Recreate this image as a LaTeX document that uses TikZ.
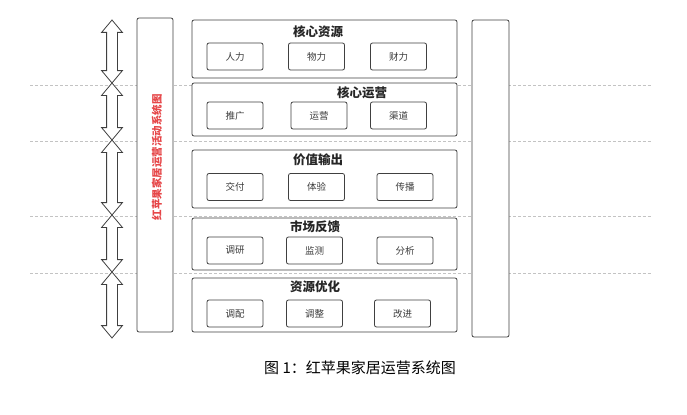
\documentclass[tikz,border=0pt]{standalone}
\usepackage{fontspec}
\setmainfont{Noto Sans CJK SC}
\usepackage{tikz}
\usetikzlibrary{shapes.arrows, positioning}
\definecolor{mydark}{RGB}{64,64,64}
\definecolor{mytext}{RGB}{60,60,60}
\definecolor{myred}{RGB}{230,70,72}
\definecolor{mydash}{RGB}{195,195,195}
\tikzset{
  layer/.style={rectangle, draw=mydark, fill=white, minimum width=265bp,
    rounded corners=2pt, line width=0.8pt},
  itembox/.style={rectangle, draw=mydark, fill=white, minimum width=56bp,
    minimum height=27bp, inner sep=0pt, text=mytext,
    font=\fontsize{9.5bp}{11bp}\selectfont, rounded corners=2pt, line width=0.8pt},
  layertitle/.style={inner sep=0pt, text=black!85,
    font=\fontsize{12.5bp}{15bp}\selectfont\bfseries},
  sidebox/.style={rectangle, draw=mydark, fill=white,
    rounded corners=2pt, line width=0.8pt},
  dblarrow/.style={double arrow, draw=mydark, fill=white, rotate=90,
    inner sep=5bp, double arrow head extend=5bp, double arrow tip angle=80,
    line width=0.8pt},
  guide/.style={color=mydash, line width=0.6pt, dash pattern=on 3pt off 2pt}
}

\begin{document}
\begin{tikzpicture}[x=1bp, y=-1bp]
  \useasboundingbox (0,0) rectangle (687,414);
  \foreach \y in {85,141,216,273}
    \draw[guide] (30,\y) -- (651,\y);

  \node[dblarrow, minimum height=63bp] (arr1) at (112,51.5)  {};
  \node[dblarrow, minimum height=57bp] (arr2) at (112,111.5) {};
  \node[dblarrow, minimum height=75bp] (arr3) at (112,177.5) {};
  \node[dblarrow, minimum height=57bp] (arr4) at (112,243.5) {};
  \node[dblarrow, minimum height=66bp] (arr5) at (112,305)   {};

  \node[sidebox, minimum width=36bp, minimum height=314bp] (left)  at (155,175)   {};
  \node[rotate=90, text=myred, font=\fontsize{10.5bp}{12bp}\selectfont\bfseries]
    (sidetitle) at (157,157) {红苹果家居运营活动系统图};
  \node[sidebox, minimum width=37bp, minimum height=317bp] (right) at (490.5,178.5) {};

  \node[layer, minimum height=58bp] (core)    at (324.5,49)    {};
  \node[layer, minimum height=53bp] (oper)    at (324.5,109.5) {};
  \node[layer, minimum height=58bp] (value)   at (324.5,179)   {};
  \node[layer, minimum height=52bp] (market)  at (324.5,244)   {};
  \node[layer, minimum height=54bp] (optim)   at (324.5,305)   {};

  \node[layertitle] (coret)   at (318,32)  {核心资源};
  \node[layertitle] (opert)   at (362,93)  {核心运营};
  \node[layertitle] (valuet)  at (318,160) {价值输出};
  \node[layertitle] (markett) at (315,227) {市场反馈};
  \node[layertitle] (optimt)  at (315,287) {资源优化};

  \node[itembox] (core1) at (235,56.5)   {人力};
  \node[itembox] (core2) at (316.5,56.5) {物力};
  \node[itembox] (core3) at (398.5,56.5) {财力};

  \node[itembox] (oper1) at (235,115.5)   {推广};
  \node[itembox] (oper2) at (319,115.5)   {运营};
  \node[itembox] (oper3) at (398.5,115.5) {渠道};

  \node[itembox] (value1) at (235,187)   {交付};
  \node[itembox] (value2) at (316.5,187) {体验};
  \node[itembox] (value3) at (405,187)   {传播};

  \node[itembox] (market1) at (235,250.5)   {调研};
  \node[itembox] (market2) at (314.5,250.5) {监测};
  \node[itembox] (market3) at (405,250.5)   {分析};

  \node[itembox] (optim1) at (235,313.5)   {调配};
  \node[itembox] (optim2) at (314.5,313.5) {调整};
  \node[itembox] (optim3) at (402.5,313.5) {改进};

  \node[font=\fontsize{15bp}{18bp}\selectfont, text=black] (caption) at (360,368)
    {图 1：红苹果家居运营系统图};
\end{tikzpicture}
\end{document}
